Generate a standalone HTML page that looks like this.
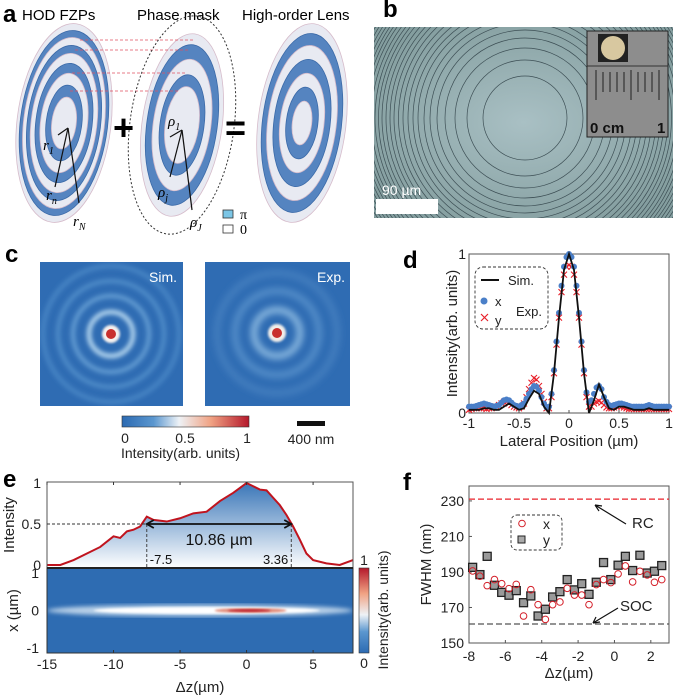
<!DOCTYPE html>
<html><head><meta charset="utf-8"><style>
html,body{margin:0;padding:0;background:#fff}
svg{display:block;font-family:"Liberation Sans",Arial,sans-serif}
</style></head><body>
<svg id="fig" width="674" height="698" viewBox="0 0 674 698" xmlns="http://www.w3.org/2000/svg">
<defs>
<linearGradient id="cmap" x1="0" x2="1" y1="0" y2="0">
<stop offset="0" stop-color="#2c6ab2"/><stop offset="0.25" stop-color="#5b97cf"/><stop offset="0.45" stop-color="#eef2f6"/><stop offset="0.7" stop-color="#f0a283"/><stop offset="1" stop-color="#b5182b"/>
</linearGradient>
<linearGradient id="cmapv" x1="0" x2="0" y1="1" y2="0">
<stop offset="0" stop-color="#2c6ab2"/><stop offset="0.25" stop-color="#5b97cf"/><stop offset="0.45" stop-color="#eef2f6"/><stop offset="0.7" stop-color="#f0a283"/><stop offset="1" stop-color="#b5182b"/>
</linearGradient>
<linearGradient id="efill" x1="0" x2="0" y1="0" y2="1">
<stop offset="0" stop-color="#3a76b8"/><stop offset="1" stop-color="#ffffff"/>
</linearGradient>
<radialGradient id="photo" cx="0.5" cy="0.5" r="0.6">
<stop offset="0" stop-color="#a9c0c4"/><stop offset="1" stop-color="#849e9f"/>
</radialGradient>
<filter id="blur2"><feGaussianBlur stdDeviation="2"/></filter>
<filter id="blur4"><feGaussianBlur stdDeviation="3.5"/></filter>
<filter id="blur1"><feGaussianBlur stdDeviation="1"/></filter>
<clipPath id="clipPhoto"><rect x="374" y="27" width="299" height="191"/></clipPath>
<clipPath id="clipC1"><rect x="40" y="262" width="143" height="144"/></clipPath>
<clipPath id="clipC2"><rect x="205" y="262" width="145" height="144"/></clipPath>
<clipPath id="clipE"><rect x="47" y="568" width="306" height="85"/></clipPath>
</defs>

<!-- ===== Panel a ===== -->
<g>
<text x="3" y="22" font-size="24" font-weight="bold">a</text>
<text x="22" y="20" font-size="15">HOD FZPs</text>
<text x="137" y="20" font-size="15">Phase mask</text>
<text x="242" y="20" font-size="15">High-order Lens</text>
<g id="lens1" transform="translate(64,123) rotate(7)"></g>
<g id="lens2" transform="translate(182,125) rotate(8)"></g>
<g id="lens3" transform="translate(302,123) rotate(7)"></g>
<g stroke="#e05060" stroke-width="0.8" stroke-dasharray="3,2">
<line x1="80" y1="40" x2="195" y2="40"/><line x1="75" y1="50" x2="190" y2="50"/><line x1="72" y1="73" x2="185" y2="73"/><line x1="70" y1="91" x2="180" y2="91"/>
</g>
<ellipse cx="182" cy="125" rx="52" ry="110" transform="rotate(8 182 125)" fill="none" stroke="#333" stroke-width="1" stroke-dasharray="2,2"/>
<text x="113" y="140" font-size="36" font-weight="bold">+</text>
<text x="225" y="140" font-size="36" font-weight="bold">=</text>
<g stroke="#111" stroke-width="1.2" fill="none">
<line x1="68" y1="128" x2="58" y2="135"/><line x1="68" y1="128" x2="55" y2="187"/><line x1="68" y1="128" x2="79" y2="203"/>
<line x1="182" y1="130" x2="170" y2="137"/><line x1="182" y1="130" x2="170" y2="177"/><line x1="182" y1="130" x2="192" y2="210"/>
</g>
<g font-family="Liberation Serif,serif" font-style="italic" font-size="15">
<text x="43" y="150">r<tspan font-size="10" dy="4">1</tspan></text>
<text x="46" y="200">r<tspan font-size="10" dy="4">n</tspan></text>
<text x="73" y="226">r<tspan font-size="10" dy="4">N</tspan></text>
<text x="168" y="126">ρ<tspan font-size="10" dy="4">1</tspan></text>
<text x="158" y="197">ρ<tspan font-size="10" dy="4">j</tspan></text>
<text x="190" y="227">ρ<tspan font-size="10" dy="4">J</tspan></text>
</g>
<rect x="223" y="210" width="10" height="8" fill="#7cc6e6" stroke="#333" stroke-width="0.8"/>
<rect x="223" y="225" width="10" height="8" fill="#fff" stroke="#333" stroke-width="0.8"/>
<text x="240" y="219" font-size="14" font-family="Liberation Serif,serif">π</text>
<text x="240" y="234" font-size="14" font-family="Liberation Serif,serif">0</text>
</g>

<!-- ===== Panel b ===== -->
<g>
<text x="383" y="17" font-size="24" font-weight="bold">b</text>
<rect x="374" y="27" width="299" height="191" fill="url(#photo)"/>
<g id="rings" clip-path="url(#clipPhoto)" fill="none" stroke="#3d4f55" stroke-width="0.7"></g>
<rect x="587" y="31" width="81" height="106" fill="#8d8d8d" stroke="#222" stroke-width="1"/>
<rect x="598" y="34" width="30" height="28" fill="#222"/>
<circle cx="613" cy="48" r="12" fill="#d8c8a0"/>
<line x1="587" y1="66" x2="668" y2="66" stroke="#333"/>
<g stroke="#333" stroke-width="1.2">
<line x1="596" y1="70" x2="596" y2="100"/><line x1="603" y1="72" x2="603" y2="92"/><line x1="610" y1="72" x2="610" y2="92"/><line x1="617" y1="72" x2="617" y2="92"/><line x1="624" y1="72" x2="624" y2="92"/><line x1="631" y1="70" x2="631" y2="100"/><line x1="638" y1="72" x2="638" y2="92"/><line x1="645" y1="72" x2="645" y2="92"/><line x1="652" y1="72" x2="652" y2="92"/><line x1="659" y1="70" x2="659" y2="100"/>
</g>
<text x="590" y="133" font-size="15" font-weight="bold" fill="#111">0 cm</text>
<text x="657" y="133" font-size="15" font-weight="bold" fill="#111">1</text>
<rect x="376" y="199" width="62" height="15" fill="#fff"/>
<text x="382" y="195" font-size="14" fill="#fff">90 µm</text>
</g>

<!-- ===== Panel c ===== -->
<g>
<text x="5" y="262" font-size="24" font-weight="bold">c</text>
<g clip-path="url(#clipC1)">
<rect x="40" y="262" width="143" height="144" fill="#2f6cb3"/>
<g fill="none" filter="url(#blur2)">
<circle cx="111" cy="334" r="22" stroke="#a9cdea" stroke-width="5"/>
<circle cx="111" cy="334" r="38" stroke="#5d97cf" stroke-width="5"/>
<circle cx="111" cy="334" r="53" stroke="#4b88c6" stroke-width="5"/>
<circle cx="111" cy="334" r="68" stroke="#4482c2" stroke-width="5"/>
</g>
<circle cx="111" cy="334" r="9" fill="#f5f0ee" filter="url(#blur1)"/>
<circle cx="111" cy="334" r="5" fill="#c8302e"/>
<text x="177" y="282" font-size="14" fill="#fff" text-anchor="end">Sim.</text>
</g>
<g clip-path="url(#clipC2)">
<rect x="205" y="262" width="145" height="144" fill="#2f6cb3"/>
<g fill="none" filter="url(#blur4)">
<circle cx="277" cy="333" r="23" stroke="#8fbce2" stroke-width="6"/>
<circle cx="277" cy="333" r="42" stroke="#5690ca" stroke-width="6"/>
<circle cx="277" cy="333" r="60" stroke="#447fbf" stroke-width="6"/>
</g>
<circle cx="277" cy="333" r="9" fill="#f2eeea" filter="url(#blur1)"/>
<circle cx="277" cy="333" r="5" fill="#c8302e"/>
<text x="345" y="282" font-size="14" fill="#fff" text-anchor="end">Exp.</text>
</g>
<rect x="122" y="416" width="127" height="11" fill="url(#cmap)" stroke="#333" stroke-width="0.6"/>
<g font-size="14" fill="#222">
<text x="125" y="443" text-anchor="middle">0</text><text x="185" y="443" text-anchor="middle">0.5</text><text x="247" y="443" text-anchor="middle">1</text>
</g>
<text x="121" y="458" font-size="14" fill="#222">Intensity(arb. units)</text>
<rect x="297" y="421" width="28" height="5" fill="#111"/>
<text x="311" y="444" font-size="14" text-anchor="middle" fill="#222">400 nm</text>
</g>

<!-- ===== Panel d ===== -->
<g id="panelD">
<text x="403" y="268" font-size="24" font-weight="bold">d</text>
</g>

<!-- ===== Panel e ===== -->
<g id="panelE">
<text x="3" y="487" font-size="24" font-weight="bold">e</text>
</g>

<!-- ===== Panel f ===== -->
<g id="panelF">
<text x="403" y="490" font-size="24" font-weight="bold">f</text>
</g>
</svg>

<script>
// ---------- Panel d data ----------
const dPos = [-1,-0.95,-0.9,-0.85,-0.8,-0.75,-0.7,-0.65,-0.6,-0.55,-0.5,-0.45,-0.4,-0.35,-0.3,-0.25,-0.2,-0.15,-0.1,-0.05,0,0.05,0.1,0.15,0.2,0.25,0.3,0.35,0.4,0.45,0.5,0.55,0.6,0.65,0.7,0.75,0.8,0.85,0.9,0.95,1];
const dSim = [0.02,0.02,0.02,0.03,0.03,0.02,0.02,0.04,0.06,0.04,0.02,0.03,0.09,0.14,0.12,0.04,0.0,0.25,0.6,0.9,1,0.9,0.6,0.25,0.0,0.08,0.18,0.1,0.03,0.02,0.04,0.04,0.03,0.02,0.02,0.02,0.03,0.02,0.02,0.02,0.02];
const dExpStart = -1, dExpStep = 0.025;
const dExpX = [0.04,0.04,0.04,0.045,0.05,0.055,0.06,0.055,0.05,0.045,0.04,0.045,0.05,0.065,0.08,0.085,0.08,0.065,0.05,0.045,0.04,0.05,0.06,0.09,0.12,0.15,0.17,0.165,0.14,0.1,0.06,0.035,0.04,0.12,0.27,0.45,0.63,0.8,0.92,0.98,1,0.98,0.92,0.8,0.63,0.45,0.27,0.13,0.07,0.08,0.12,0.16,0.17,0.15,0.1,0.07,0.05,0.045,0.05,0.055,0.06,0.06,0.055,0.05,0.045,0.04,0.04,0.04,0.04,0.04,0.04,0.045,0.05,0.045,0.04,0.04,0.04,0.04,0.04,0.04,0.04];
const dExpY = [0.02,0.025,0.03,0.03,0.035,0.03,0.03,0.025,0.03,0.03,0.035,0.04,0.05,0.06,0.07,0.07,0.06,0.05,0.04,0.035,0.03,0.04,0.06,0.1,0.15,0.19,0.22,0.21,0.17,0.12,0.07,0.03,0.03,0.1,0.25,0.43,0.6,0.76,0.87,0.92,0.93,0.92,0.87,0.76,0.6,0.43,0.25,0.1,0.04,0.04,0.06,0.07,0.075,0.065,0.05,0.035,0.03,0.03,0.035,0.04,0.045,0.04,0.035,0.03,0.025,0.025,0.025,0.025,0.025,0.025,0.025,0.025,0.025,0.025,0.025,0.025,0.025,0.025,0.025,0.025,0.025];
const dXTicks = [-1,-0.5,0,0.5,1];
const dXTickLabels = ["-1","-0.5","0","0.5","1"];
const dYTicks = [0,1];

// ---------- Panel e data ----------
const eZ = [-15,-14,-13,-12,-11,-10,-9.5,-9,-8.5,-8,-7.5,-7,-6,-5,-4,-3,-2,-1,-0.5,0,0.5,1,1.5,2,2.5,3,3.5,4,4.5,5,6,7,8];
const eI = [0,0,0.06,0.14,0.22,0.35,0.33,0.41,0.43,0.47,0.59,0.55,0.53,0.57,0.63,0.65,0.78,0.88,0.94,1.0,0.96,0.92,0.91,0.82,0.73,0.61,0.47,0.31,0.14,0.06,0.02,0,0.06];
const eXTicks = [-15,-10,-5,0,5];
const eYTicksTop = [0,0.5,1];
const eYTicksMap = [-1,0,1];
const eFwhmL = -7.5, eFwhmR = 3.36;

// ---------- Panel f data ----------
const fZ = [-7.8,-7.4,-7.0,-6.6,-6.2,-5.8,-5.4,-5.0,-4.6,-4.2,-3.8,-3.4,-3.0,-2.6,-2.2,-1.8,-1.4,-1.0,-0.6,-0.2,0.2,0.6,1.0,1.4,1.8,2.2,2.6];
const fX = [190.6,187.6,182.3,185.7,183.4,180.6,183,165.2,180,171.6,163.3,171.6,173.1,180.8,177,177,171.6,182.9,185.7,184,188.9,193.4,184.4,190.4,188.3,184.2,185.7];
const fY = [192.6,188.5,198.8,182.5,178.5,176.9,179.5,172.7,176.5,165.2,169,175.9,178.9,185.7,179.9,183.4,177.4,184.2,195.3,185.7,193.8,198.8,190.8,199.4,189.4,190.4,193.6];
const fRC = 231, fSOC = 160.7;
const fXTicks = [-8,-6,-4,-2,0,2];
const fYTicks = [150,170,190,210,230];

const NS = "http://www.w3.org/2000/svg";
function mk(parent, tag, attrs, txt){
  const el = document.createElementNS(NS, tag);
  for (const k in attrs) el.setAttribute(k, attrs[k]);
  if (txt !== undefined) el.textContent = txt;
  parent.appendChild(el);
  return el;
}

// ---------- Panel a lenses ----------
function lens(id, rx, ry, fracs){
  const g = document.getElementById(id);
  fracs.forEach((f, i) => {
    const e = mk(g, 'ellipse', {cx:0, cy:0, rx:rx*f, ry:ry*f, fill: i%2===0 ? '#e8eaf2' : '#5584c0', stroke: i%2===0 ? '#d6bccb' : '#3b6aa8', 'stroke-width':0.8});
    
    
  });
}
lens('lens1', 47, 100, [1,0.93,0.86,0.78,0.7,0.6,0.5,0.38,0.26]);
lens('lens2', 40, 92, [1,0.88,0.72,0.55,0.42]);
lens('lens3', 44, 100, [1,0.9,0.78,0.64,0.5,0.36,0.22]);

// ---------- Panel b rings ----------
(function(){
  const g = document.getElementById('rings');
  const radii = [42,58,70,80,88,95,101,107,112,117,122,126.5,131,135,139,143,146.5,150,153.5,157,160,163,166,169,172,175,178,181,184,187];
  radii.forEach(r => {
    const c = mk(g, 'circle', {cx:525, cy:118, r:r});
    
    
  });
})();

// ---------- Panel d ----------
(function(){
  const g = document.getElementById('panelD');
  const L=469, R=669, T=254, B=413;
  const sx = v => L + (v+1)/2*(R-L);
  const sy = v => B - v*(B-T);
  const frame = mk(g,'rect',{x:L,y:T,width:R-L,height:B-T,fill:'none',stroke:'#555','stroke-width':1});
  
  
  dXTicks.forEach((t,i)=>{
    mk(g,'line',{x1:sx(t),x2:sx(t),y1:B,y2:B-3,stroke:'#555'});
    const tx = mk(g,'text',{x:sx(t),y:B+15,'font-size':14,'text-anchor':'middle',fill:'#222'},dXTickLabels[i]);
    
    
  });
  dYTicks.forEach(t=>{
    const ty = mk(g,'text',{x:L-3,y:sy(t)+5,'font-size':14,'text-anchor':'end',fill:'#222'},String(t));
    
    
  });
  const xl = mk(g,'text',{x:(L+R)/2,y:446,'font-size':15,'text-anchor':'middle',fill:'#222'},'Lateral Position (µm)');
  
  
  const yl = mk(g,'text',{x:0,y:0,'font-size':15,'text-anchor':'middle',fill:'#222',transform:`translate(457,${(T+B)/2}) rotate(-90)`},'Intensity(arb. units)');
  
  
  dExpY.forEach((v,i)=>{
    const x=sx(dExpStart+i*dExpStep), y=sy(v);
    const c = mk(g,'path',{d:`M${x-3},${y-3}L${x+3},${y+3}M${x-3},${y+3}L${x+3},${y-3}`,stroke:'#e8202a','stroke-width':1.1});
    
    
  });
  dExpX.forEach((v,i)=>{
    const c = mk(g,'circle',{cx:sx(dExpStart+i*dExpStep),cy:sy(v),r:3,fill:'#4a7fc8'});
    
    
  });
  const line = mk(g,'polyline',{points:dPos.map((p,i)=>sx(p)+','+sy(dSim[i])).join(' '),fill:'none',stroke:'#111','stroke-width':1.8});
  
  
  const lg = mk(g,'rect',{x:475,y:267,width:73,height:62,rx:8,fill:'#fff',stroke:'#333','stroke-width':0.9,'stroke-dasharray':'3,2'});
  
  
  mk(g,'line',{x1:481,x2:499,y1:280,y2:280,stroke:'#111','stroke-width':2});
  mk(g,'text',{x:508,y:285,'font-size':13,fill:'#222'},'Sim.');
  mk(g,'circle',{cx:484,cy:301,r:3.5,fill:'#4a7fc8'});
  mk(g,'text',{x:495,y:306,'font-size':13,fill:'#222'},'x');
  mk(g,'path',{d:'M481,314L488,321M481,321L488,314',stroke:'#e8202a','stroke-width':1.2});
  mk(g,'text',{x:495,y:325,'font-size':13,fill:'#222'},'y');
  mk(g,'text',{x:516,y:316,'font-size':13,fill:'#222'},'Exp.');
})();

// ---------- Panel e ----------
(function(){
  const g = document.getElementById('panelE');
  const L=47, R=353, T=482, B=568, HB=653;
  const sx = v => L + (v+15)/23*(R-L);
  const syT = v => 565 - v*(565-483);
  const syM = v => 610.5 - v*(610.5-573);
  const pts = eZ.map((z,i)=>sx(z)+','+syT(eI[i])).join(' ');
  const area = mk(g,'polygon',{points:`${sx(eZ[0])},${B} ${pts} ${sx(eZ[eZ.length-1])},${B}`,fill:'url(#efill)'});
  
  
  const ln = mk(g,'polyline',{points:pts,fill:'none',stroke:'#c0141e','stroke-width':2});
  
  
  mk(g,'rect',{x:L,y:T,width:R-L,height:B-T,fill:'none',stroke:'#555','stroke-width':1});
  mk(g,'line',{x1:L,x2:sx(eFwhmL),y1:syT(0.5),y2:syT(0.5),stroke:'#333','stroke-dasharray':'3,2','stroke-width':0.9});
  mk(g,'line',{x1:sx(eFwhmL),x2:sx(eFwhmL),y1:syT(0.5),y2:B,stroke:'#333','stroke-dasharray':'3,2','stroke-width':0.9});
  mk(g,'line',{x1:sx(eFwhmR),x2:sx(eFwhmR),y1:syT(0.5),y2:B,stroke:'#333','stroke-dasharray':'3,2','stroke-width':0.9});
  const arr = mk(g,'path',{d:`M${sx(eFwhmL)+7},${syT(0.5)-4}L${sx(eFwhmL)},${syT(0.5)}L${sx(eFwhmL)+7},${syT(0.5)+4}M${sx(eFwhmL)},${syT(0.5)}L${sx(eFwhmR)},${syT(0.5)}M${sx(eFwhmR)-7},${syT(0.5)-4}L${sx(eFwhmR)},${syT(0.5)}L${sx(eFwhmR)-7},${syT(0.5)+4}`,stroke:'#111','stroke-width':1.8,fill:'none'});
  
  
  const fw = mk(g,'text',{x:(sx(eFwhmL)+sx(eFwhmR))/2,y:545,'font-size':16,'text-anchor':'middle',fill:'#111'},'10.86 µm');
  
  
  mk(g,'text',{x:sx(eFwhmL)+3,y:564,'font-size':13,fill:'#111'},String(eFwhmL));
  mk(g,'text',{x:sx(eFwhmR)-3,y:564,'font-size':13,fill:'#111','text-anchor':'end'},String(eFwhmR));
  eYTicksTop.forEach(t=>{
    const tt = mk(g,'text',{x:L-6,y:syT(t)+5,'font-size':14,'text-anchor':'end',fill:'#222'},String(t));
    
    
  });
  const yt = mk(g,'text',{x:0,y:0,'font-size':15,'text-anchor':'middle',fill:'#222',transform:`translate(14,${(T+B)/2}) rotate(-90)`},'Intensity');
  
  
  const hm = mk(g,'g',{'clip-path':'url(#clipE)'});
  
  
  mk(hm,'rect',{x:L,y:B,width:R-L,height:HB-B,fill:'#2e6cb2'});
  mk(hm,'line',{x1:sx(-13),x2:sx(6),y1:syM(0.35),y2:syM(0.35),stroke:'#4d88c6','stroke-width':3,filter:'url(#blur2)'});
  mk(hm,'line',{x1:sx(-13),x2:sx(6),y1:syM(-0.35),y2:syM(-0.35),stroke:'#4d88c6','stroke-width':3,filter:'url(#blur2)'});
  mk(hm,'ellipse',{cx:sx(-3.5),cy:syM(0),rx:sx(8)-sx(-3.5),ry:6,fill:'#b8d0e8',filter:'url(#blur2)'});
  mk(hm,'ellipse',{cx:sx(-3),cy:syM(0),rx:sx(5.5)-sx(-3),ry:3.5,fill:'#ffffff',filter:'url(#blur1)'});
  mk(hm,'ellipse',{cx:sx(0.3),cy:syM(0),rx:sx(3)-sx(0.3),ry:2.5,fill:'#e08a78',filter:'url(#blur1)'});
  mk(hm,'ellipse',{cx:sx(0.2),cy:syM(0),rx:sx(1.8)-sx(0.2),ry:1.5,fill:'#c02630',filter:'url(#blur1)'});
  mk(g,'rect',{x:L,y:B,width:R-L,height:HB-B,fill:'none',stroke:'#333','stroke-width':1});
  mk(g,'line',{x1:L,x2:R,y1:B,y2:B,stroke:'#222','stroke-width':2});
  eXTicks.forEach(t=>{
    mk(g,'line',{x1:sx(t),x2:sx(t),y1:HB,y2:HB-3,stroke:'#333'});
    mk(g,'line',{x1:sx(t),x2:sx(t),y1:T,y2:T+3,stroke:'#333'});
    const tx = mk(g,'text',{x:sx(t),y:HB+16,'font-size':14,'text-anchor':'middle',fill:'#222'},String(t));
    
    
  });
  eYTicksMap.forEach(t=>{
    const tt = mk(g,'text',{x:L-8,y:syM(t)+5,'font-size':14,'text-anchor':'end',fill:'#222'},String(t));
    
    
  });
  const xl = mk(g,'text',{x:(L+R)/2,y:692,'font-size':15,'text-anchor':'middle',fill:'#222'},'Δz(µm)');
  
  
  const ym = mk(g,'text',{x:0,y:0,'font-size':15,'text-anchor':'middle',fill:'#222',transform:`translate(18,${(B+HB)/2}) rotate(-90)`},'x (µm)');
  
  
  const cb = mk(g,'rect',{x:359,y:568,width:10,height:85,fill:'url(#cmapv)',stroke:'#333','stroke-width':0.6});
  
  
  mk(g,'text',{x:364,y:565,'font-size':14,'text-anchor':'middle',fill:'#222'},'1');
  mk(g,'text',{x:364,y:668,'font-size':14,'text-anchor':'middle',fill:'#222'},'0');
  const ct = mk(g,'text',{x:0,y:0,'font-size':14,'text-anchor':'middle',fill:'#222',transform:`translate(388,610) rotate(-90)`},'Intensity(arb. units)');
  
  
})();

// ---------- Panel f ----------
(function(){
  const g = document.getElementById('panelF');
  const L=469, R=669, T=486, B=643;
  const sx = v => L + (v+8)/11*(R-L) ;
  const sy = v => B - (v-150)/88.4*(B-T);
  mk(g,'rect',{x:L,y:T,width:R-L,height:B-T,fill:'none',stroke:'#555','stroke-width':1});
  fXTicks.forEach(t=>{
    mk(g,'line',{x1:sx(t),x2:sx(t),y1:B,y2:B-3,stroke:'#555'});
    const tx = mk(g,'text',{x:sx(t),y:B+18,'font-size':14,'text-anchor':'middle',fill:'#222'},String(t));
    
    
  });
  fYTicks.forEach(t=>{
    mk(g,'line',{x1:L,x2:L+3,y1:sy(t),y2:sy(t),stroke:'#555'});
    const ty = mk(g,'text',{x:L-5,y:sy(t)+5,'font-size':14,'text-anchor':'end',fill:'#222'},String(t));
    
    
  });
  const rc = mk(g,'line',{x1:L,x2:R,y1:sy(fRC),y2:sy(fRC),stroke:'#e8202a','stroke-width':1.2,'stroke-dasharray':'6,3'});
  
  
  const soc = mk(g,'line',{x1:L,x2:R,y1:sy(fSOC),y2:sy(fSOC),stroke:'#555','stroke-width':1.2,'stroke-dasharray':'6,3'});
  
  
  fZ.forEach((z,i)=>{
    const s = mk(g,'rect',{x:sx(z)-4,y:sy(fY[i])-4,width:8,height:8,fill:'#9a9a9a',stroke:'#222','stroke-width':1.3});
    
    
  });
  fZ.forEach((z,i)=>{
    const c = mk(g,'circle',{cx:sx(z),cy:sy(fX[i]),r:3.3,fill:'none',stroke:'#d4202a','stroke-width':1});
    
    
  });
  mk(g,'path',{d:'M626,524L595,505M595,505L602,506M595,505L599,511',stroke:'#111','stroke-width':1.2,fill:'none'});
  mk(g,'text',{x:632,y:528,'font-size':15,fill:'#222'},'RC');
  mk(g,'path',{d:'M618,608L593,623M593,623L600,622M593,623L596,617',stroke:'#111','stroke-width':1.2,fill:'none'});
  mk(g,'text',{x:620,y:611,'font-size':15,fill:'#222'},'SOC');
  const lg = mk(g,'rect',{x:511,y:515,width:51,height:35,rx:6,fill:'#fff',stroke:'#333','stroke-width':0.9,'stroke-dasharray':'3,2'});
  
  
  mk(g,'circle',{cx:522,cy:523.5,r:3.3,fill:'none',stroke:'#d4202a'});
  mk(g,'text',{x:543,y:529,'font-size':14,fill:'#222'},'x');
  mk(g,'rect',{x:518,y:536,width:7,height:7,fill:'#aaa',stroke:'#222'});
  mk(g,'text',{x:543,y:545,'font-size':14,fill:'#222'},'y');
  const xl = mk(g,'text',{x:(L+R)/2,y:678,'font-size':15,'text-anchor':'middle',fill:'#222'},'Δz(µm)');
  
  
  const yl = mk(g,'text',{x:0,y:0,'font-size':15,'text-anchor':'middle',fill:'#222',transform:`translate(431,${(T+B)/2}) rotate(-90)`},'FWHM (nm)');
  
  
})();
</script>
</body></html>
